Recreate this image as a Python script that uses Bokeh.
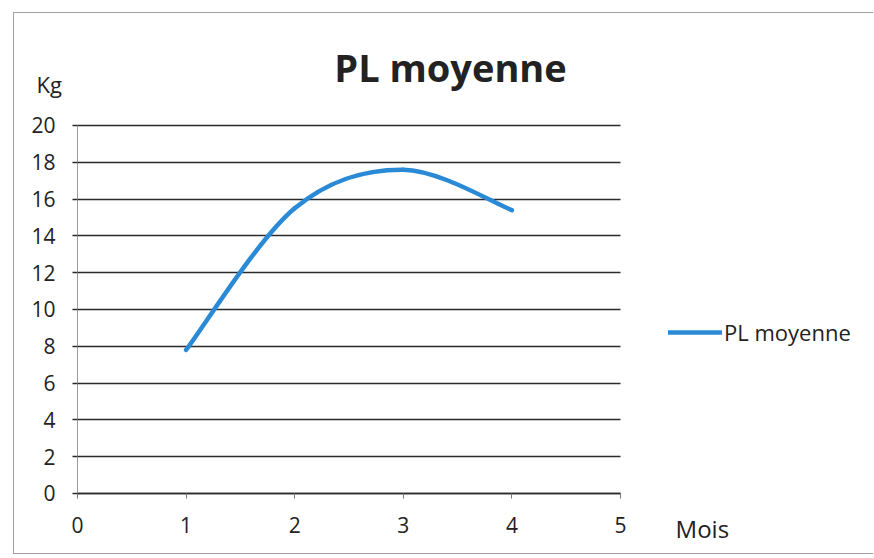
from bokeh.plotting import figure
from bokeh.models import Range1d, FixedTicker, Legend, LegendItem, Label
from bokeh.core.properties import value
from bokeh.embed import file_html
from bokeh.resources import INLINE

# data
mois = [1, 2, 3, 4]
pl_moyenne = [7.8, 15.5, 17.6, 15.4]
series_name = "PL moyenne"
chart_title = "PL moyenne"
y_name = "Kg"
x_name = "Mois"
x_ticks = [0, 1, 2, 3, 4, 5]
y_ticks = [0, 2, 4, 6, 8, 10, 12, 14, 16, 18, 20]

FONT = "Open Sans"
BLUE = "#2a8ad6"
INK = "#222222"
GRID = "#2a2a2a"

# the frame covers the whole canvas; axes sit at x=0 / y=0 inside it
p = figure(width=860, height=542, output_backend="svg", toolbar_location=None,
           x_range=Range1d(-0.580, 7.339), y_range=Range1d(-3.370, 26.087),
           min_border=0, min_border_left=0, min_border_right=0,
           min_border_top=0, min_border_bottom=0)
p.title.visible = False
p.outline_line_color = None
p.background_fill_color = "white"
p.border_fill_color = "white"

# axes
xa, ya = p.xaxis[0], p.yaxis[0]
xa.ticker = FixedTicker(ticks=x_ticks)
ya.ticker = FixedTicker(ticks=y_ticks)
xa.fixed_location = 0
ya.fixed_location = 0
xa.bounds = (x_ticks[0], x_ticks[-1])
ya.bounds = (y_ticks[0], y_ticks[-1])
for ax in (xa, ya):
    ax.major_label_text_font = FONT
    ax.major_label_text_font_size = "21px"
    ax.major_label_text_color = INK
    ax.minor_tick_line_color = None
    ax.major_tick_in = 0
ya.axis_line_color = "#9a9a9a"
ya.major_tick_line_color = GRID
ya.major_tick_line_width = 1.3
ya.major_tick_out = 5
ya.major_label_standoff = 17
xa.axis_line_color = GRID
xa.axis_line_width = 1.5
xa.major_tick_line_color = "#777777"
xa.major_tick_out = 5
xa.major_label_standoff = 19

# horizontal grid lines, limited to the plotted x span
p.xgrid.grid_line_color = None
yg = p.ygrid[0]
yg.ticker = FixedTicker(ticks=y_ticks)
yg.grid_line_color = GRID
yg.grid_line_width = 1.3
if "cross_bounds" in yg.properties():
    yg.cross_bounds = (x_ticks[0], x_ticks[-1])

# smoothed line (Catmull-Rom -> cubic Bezier, built from the data points)
n = len(mois)
x0, y0, x1, y1, cx0, cy0, cx1, cy1 = [], [], [], [], [], [], [], []
for i in range(n - 1):
    pm = max(i - 1, 0)
    pp = min(i + 2, n - 1)
    x0.append(mois[i]); y0.append(pl_moyenne[i])
    x1.append(mois[i + 1]); y1.append(pl_moyenne[i + 1])
    cx0.append(mois[i] + (mois[i + 1] - mois[pm]) / 6)
    cy0.append(pl_moyenne[i] + (pl_moyenne[i + 1] - pl_moyenne[pm]) / 6)
    cx1.append(mois[i + 1] - (mois[pp] - mois[i]) / 6)
    cy1.append(pl_moyenne[i + 1] - (pl_moyenne[pp] - pl_moyenne[i]) / 6)
bz = p.bezier(x0=x0, y0=y0, x1=x1, y1=y1, cx0=cx0, cy0=cy0, cx1=cx1, cy1=cy1,
              line_color=BLUE, line_width=4.5, line_cap="round")

# legend
legend = Legend(items=[LegendItem(label=value(series_name), renderers=[bz])],
                location=(654, 208), orientation="vertical",
                label_text_font=FONT, label_text_font_size="22px",
                label_text_color=INK, glyph_width=54, glyph_height=20,
                label_height=20, label_standoff=2, padding=0, spacing=0,
                margin=0, border_line_color=None, background_fill_alpha=0)
p.add_layout(legend, "center")

# title and axis names
p.add_layout(Label(x=3.435, y=23.2, text=chart_title, text_font=FONT,
                   text_font_style="bold", text_font_size="38px",
                   text_color=INK, text_align="center",
                   text_baseline="alphabetic"))
p.add_layout(Label(x=-0.378, y=22.25, text=y_name, text_font=FONT,
                   text_font_size="22px", text_color=INK,
                   text_align="left", text_baseline="alphabetic"))
p.add_layout(Label(x=5.507, y=-1.9, text=x_name, text_font=FONT,
                   text_font_size="24px", text_color=INK,
                   text_align="left", text_baseline="alphabetic"))

p.styles = {"margin-left": "13px", "margin-top": "12px",
            "border-left": "1px solid #a0a0a0",
            "border-top": "1px solid #a0a0a0",
            "border-bottom": "1px solid #a0a0a0"}

open("out.html", "w").write(file_html(p, INLINE))
